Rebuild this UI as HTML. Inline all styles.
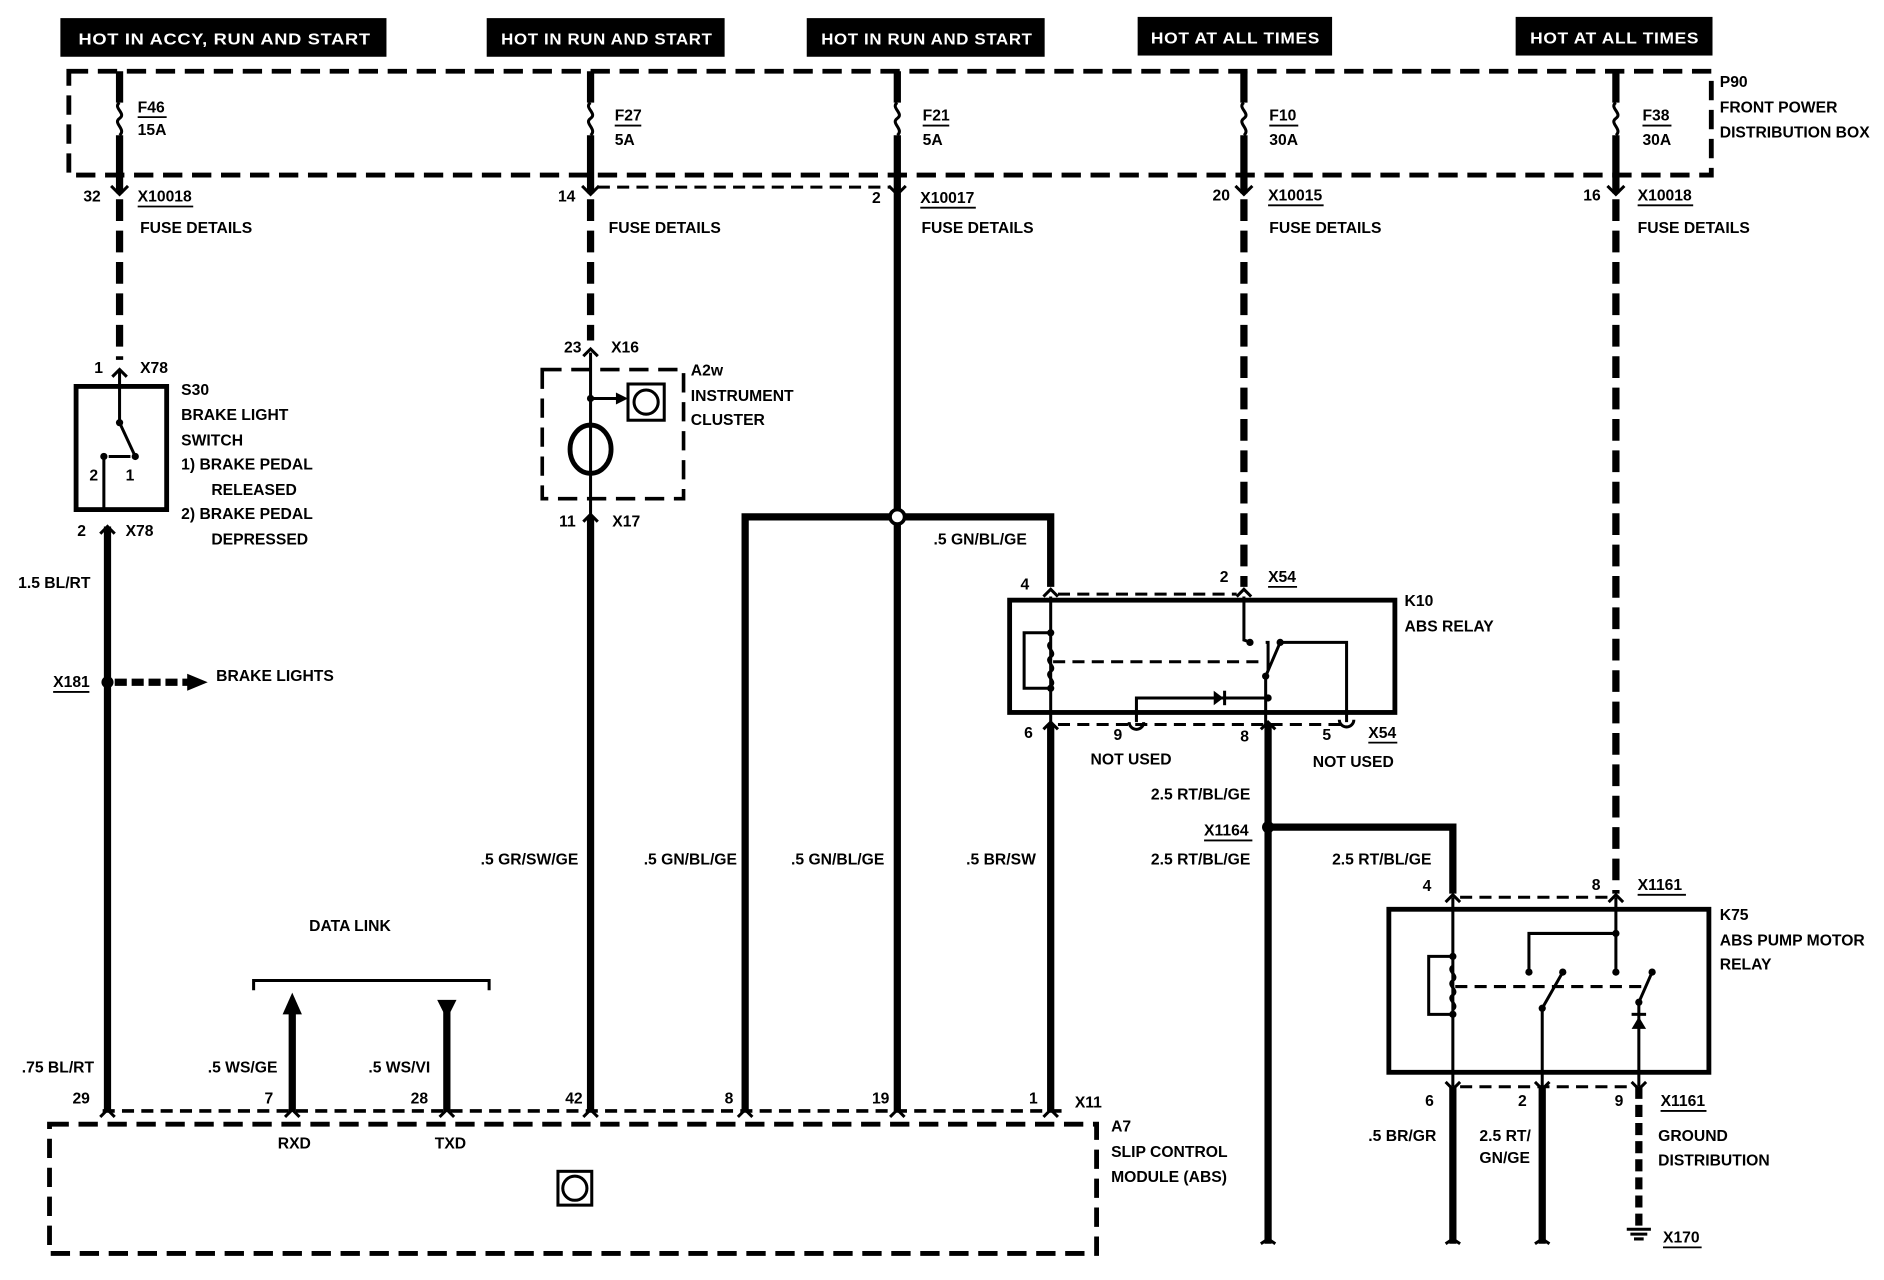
<!DOCTYPE html>
<html><head><meta charset="utf-8"><style>
html,body{margin:0;padding:0;background:#fff;width:1884px;height:1280px;overflow:hidden}
text{font-family:"Liberation Sans",sans-serif;font-weight:bold;font-size:13px;fill:#000}
.h{fill:#fff;font-size:13px;letter-spacing:0.5px}
.w{stroke:#000;stroke-width:6;fill:none}
.d{stroke:#000;stroke-width:6;fill:none;stroke-dasharray:18 8}
.t{stroke:#000;stroke-width:2.5;fill:none}
.td{stroke:#000;stroke-width:2.5;fill:none;stroke-dasharray:10 6}
.bd{stroke:#000;stroke-width:4;fill:none;stroke-dasharray:16 8}
.bx{stroke:#000;stroke-width:4;fill:none}
</style></head><body>
<svg width="1884" height="1280" viewBox="0 0 1560 1060" preserveAspectRatio="none" xmlns="http://www.w3.org/2000/svg">
<!-- headers -->
<rect x="50" y="15" width="270" height="32" fill="#000"/><text class="h" x="65" y="37" textLength="242" lengthAdjust="spacingAndGlyphs">HOT IN ACCY, RUN AND  START</text>
<rect x="403" y="15" width="197" height="32" fill="#000"/><text class="h" x="415" y="37" textLength="175" lengthAdjust="spacingAndGlyphs">HOT IN RUN AND START</text>
<rect x="668" y="15" width="197" height="32" fill="#000"/><text class="h" x="680" y="37" textLength="175" lengthAdjust="spacingAndGlyphs">HOT IN RUN AND START</text>
<rect x="942" y="14" width="161" height="32" fill="#000"/><text class="h" x="953" y="36" textLength="140" lengthAdjust="spacingAndGlyphs">HOT AT ALL TIMES</text>
<rect x="1255" y="14" width="163" height="32" fill="#000"/><text class="h" x="1267" y="36" textLength="140" lengthAdjust="spacingAndGlyphs">HOT AT ALL TIMES</text>
<!-- power box -->
<rect x="57" y="59" width="1360" height="86" class="bd"/>
<text x="1424" y="72">P90</text><text x="1424" y="93">FRONT POWER</text><text x="1424" y="114">DISTRIBUTION BOX</text>
<!-- fuses -->
<g class="w">
<path d="M99 59V85M99 112V160"/><path d="M489 59V85M489 112V160"/><path d="M743 59V85M743 112V160"/><path d="M1030 59V85M1030 112V160"/><path d="M1338 59V85M1338 112V160"/>
</g>
<g class="t">
<path d="M99 85c-6 4 6 9 0 13s6 9 0 14"/><path d="M489 85c-6 4 6 9 0 13s6 9 0 14"/><path d="M743 85c-6 4 6 9 0 13s6 9 0 14"/><path d="M1030 85c-6 4 6 9 0 13s6 9 0 14"/><path d="M1338 85c-6 4 6 9 0 13s6 9 0 14"/>
</g>
<text x="114" y="93">F46</text><line x1="114" y1="97" x2="138" y2="97" stroke="#000" stroke-width="1.5"/><text x="114" y="112">15A</text>
<text x="509" y="100">F27</text><line x1="509" y1="104" x2="531" y2="104" stroke="#000" stroke-width="1.5"/><text x="509" y="120">5A</text>
<text x="764" y="100">F21</text><line x1="764" y1="104" x2="786" y2="104" stroke="#000" stroke-width="1.5"/><text x="764" y="120">5A</text>
<text x="1051" y="100">F10</text><line x1="1051" y1="104" x2="1075" y2="104" stroke="#000" stroke-width="1.5"/><text x="1051" y="120">30A</text>
<text x="1360" y="100">F38</text><line x1="1360" y1="104" x2="1384" y2="104" stroke="#000" stroke-width="1.5"/><text x="1360" y="120">30A</text>
<!-- connectors below box -->
<g class="t"><path d="M92 154l7 7 7-7M482 154l7 7 7-7M736 154l7 7 7-7M1023 154l7 7 7-7M1331 154l7 7 7-7"/></g>
<path class="td" d="M495 155H737"/>
<text x="69" y="167">32</text><text x="114" y="167">X10018</text><line x1="114" y1="171" x2="160" y2="171" stroke="#000" stroke-width="1.5"/>
<text x="462" y="167">14</text>
<text x="722" y="168">2</text><text x="762" y="168">X10017</text><line x1="762" y1="172" x2="808" y2="172" stroke="#000" stroke-width="1.5"/>
<text x="1004" y="166">20</text><text x="1050" y="166">X10015</text><line x1="1050" y1="170" x2="1096" y2="170" stroke="#000" stroke-width="1.5"/>
<text x="1311" y="166">16</text><text x="1356" y="166">X10018</text><line x1="1356" y1="170" x2="1402" y2="170" stroke="#000" stroke-width="1.5"/>
<text x="116" y="193">FUSE DETAILS</text><text x="504" y="193">FUSE DETAILS</text><text x="763" y="193">FUSE DETAILS</text><text x="1051" y="193">FUSE DETAILS</text><text x="1356" y="193">FUSE DETAILS</text>
<!-- column 1 -->
<path class="d" d="M99 165V298"/>
<path class="t" d="M93 312l6-6 6 6"/>
<text x="78" y="309">1</text><text x="116" y="309">X78</text>
<rect x="63" y="320" width="75" height="102" class="bx"/>
<path class="t" d="M99 307V350L112 378M86 378V422M90 378H108" />
<circle cx="99" cy="350" r="3"/><circle cx="112" cy="378" r="3"/><circle cx="86" cy="378" r="3"/>
<text x="74" y="398">2</text><text x="104" y="398">1</text>
<text x="150" y="327">S30</text><text x="150" y="348">BRAKE LIGHT</text><text x="150" y="369">SWITCH</text>
<text x="150" y="389">1)   BRAKE PEDAL</text><text x="175" y="410">RELEASED</text><text x="150" y="430">2)   BRAKE PEDAL</text><text x="175" y="451">DEPRESSED</text>
<path class="t" d="M83 442l6-6 6 6"/><text x="64" y="444">2</text><text x="104" y="444">X78</text>
<path class="w" d="M89 436V920"/>
<text x="15" y="487">1.5 BL/RT</text>
<circle cx="89" cy="565" r="5"/><text x="44" y="569">X181</text><line x1="44" y1="573" x2="74" y2="573" stroke="#000" stroke-width="1.5"/>
<path class="d" d="M95 565H157" style="stroke-dasharray:10 4"/><path d="M155 558L172 565L155 572Z"/>
<text x="179" y="564">BRAKE LIGHTS</text>
<text x="18" y="888">.75 BL/RT</text><text x="60" y="914">29</text>
<!-- column 2 -->
<path class="d" d="M489 165V282"/>
<path class="t" d="M483 295l6-6 6 6"/><text x="467" y="292">23</text><text x="506" y="292">X16</text>
<rect x="449" y="306" width="117" height="107" class="bd" style="stroke-width:3"/>
<path class="t" d="M489 292V432M489 330H512"/><path d="M510 325L520 330L510 335Z"/>
<rect x="520" y="318" width="30" height="30" class="t"/><circle cx="535" cy="333" r="10" class="t"/>
<ellipse cx="489" cy="372" rx="17" ry="20" class="t" style="stroke-width:4"/>
<circle cx="489" cy="330" r="3"/>
<text x="572" y="311">A2w</text><text x="572" y="332">INSTRUMENT</text><text x="572" y="352">CLUSTER</text>
<path class="t" d="M483 432l6-6 6 6"/><text x="463" y="436">11</text><text x="507" y="436">X17</text>
<path class="w" d="M489 428V920"/>
<text x="398" y="716">.5 GR/SW/GE</text><text x="468" y="914">42</text>
<!-- column 3 -->
<path class="w" d="M743 160V920M617 920V428H870V486"/>
<circle cx="743" cy="428" r="6" fill="#fff" stroke="#000" stroke-width="3"/>
<text x="773" y="451">.5 GN/BL/GE</text>
<text x="533" y="716">.5 GN/BL/GE</text><text x="655" y="716">.5 GN/BL/GE</text><text x="800" y="716">.5 BR/SW</text>
<text x="600" y="914">8</text><text x="722" y="914">19</text><text x="852" y="914">1</text><text x="890" y="917">X11</text>
<!-- column 4 -->
<path class="d" d="M1030 165V486"/>
<!-- K10 -->
<path class="td" d="M876 492H1024"/>
<path class="t" d="M864 494l6-6 6 6M1024 494l6-6 6 6"/>
<text x="845" y="488">4</text><text x="1010" y="482">2</text><text x="1050" y="482">X54</text><line x1="1050" y1="486" x2="1074" y2="486" stroke="#000" stroke-width="1.5"/>
<rect x="836" y="497" width="319" height="93" class="bx"/>
<path class="t" d="M870 494V600M870 524H848V570H870M1030 494V530L1036 532M1048 532L1050 532V555M1060 532L1048 560V600M1060 532H1115V598M1050 578H941V598"/>
<path class="t" d="M870 532c-6 4 6 8 0 12s6 8 0 12s6 8 0 12"/>
<path class="td" d="M872 548H1046"/>
<path d="M1005 572L1013 578L1005 584Z"/><line x1="1014" y1="572" x2="1014" y2="584" stroke="#000" stroke-width="2.5"/>
<circle cx="870" cy="524" r="3"/><circle cx="870" cy="570" r="3"/><circle cx="1035" cy="532" r="3"/><circle cx="1060" cy="532" r="3"/><circle cx="1050" cy="578" r="3"/><circle cx="1048" cy="560" r="3"/>
<path class="td" d="M876 600H1110"/>
<path class="t" d="M864 604l6-6 6 6M1044 604l6-6 6 6M935 598a6 6 0 0 0 12 0M1109 596a6 6 0 0 0 12 0"/>
<text x="848" y="611">6</text><text x="922" y="613">9</text><text x="1027" y="614">8</text><text x="1095" y="613">5</text>
<text x="1133" y="611">X54</text><line x1="1133" y1="615" x2="1157" y2="615" stroke="#000" stroke-width="1.5"/>
<text x="903" y="633">NOT USED</text><text x="1087" y="635">NOT USED</text>
<text x="1163" y="502">K10</text><text x="1163" y="523">ABS RELAY</text>
<path class="w" d="M870 600V920M1050 600V1030M1050 685H1203V740"/>
<circle cx="1050" cy="685" r="5"/>
<text x="953" y="662">2.5 RT/BL/GE</text><text x="997" y="692">X1164</text><line x1="997" y1="696" x2="1037" y2="696" stroke="#000" stroke-width="1.5"/>
<text x="953" y="716">2.5 RT/BL/GE</text><text x="1103" y="716">2.5 RT/BL/GE</text>
<!-- column 5 -->
<path class="d" d="M1338 165V740"/>
<!-- K75 -->
<path class="td" d="M1209 743H1332"/>
<path class="t" d="M1197 747l6-6 6 6M1332 747l6-6 6 6"/>
<text x="1178" y="738">4</text><text x="1318" y="737">8</text><text x="1356" y="737">X1161</text><line x1="1356" y1="741" x2="1396" y2="741" stroke="#000" stroke-width="1.5"/>
<rect x="1150" y="753" width="265" height="135" class="bx"/>
<path class="t" d="M1203 743V900M1203 792H1183V840H1203M1338 743V805M1338 773H1266V805M1294 805L1277 835V900M1368 805L1357 830V900"/>
<path class="t" d="M1203 800c-6 4 6 8 0 12s6 8 0 12s6 8 0 12"/>
<path class="td" d="M1205 817H1360"/>
<path d="M1351 852L1357 842L1363 852Z"/><line x1="1351" y1="840" x2="1363" y2="840" stroke="#000" stroke-width="2.5"/>
<circle cx="1203" cy="792" r="3"/><circle cx="1203" cy="840" r="3"/><circle cx="1338" cy="773" r="3"/><circle cx="1266" cy="805" r="3"/><circle cx="1294" cy="805" r="3"/><circle cx="1338" cy="805" r="3"/><circle cx="1368" cy="805" r="3"/><circle cx="1277" cy="835" r="3"/><circle cx="1357" cy="830" r="3"/>
<text x="1424" y="762">K75</text><text x="1424" y="783">ABS PUMP MOTOR</text><text x="1424" y="803">RELAY</text>
<path class="td" d="M1209 900H1351"/>
<path class="t" d="M1197 896l6 6 6-6M1271 896l6 6 6-6M1351 896l6 6 6-6"/>
<text x="1180" y="916">6</text><text x="1257" y="916">2</text><text x="1337" y="916">9</text>
<text x="1375" y="916">X1161</text><line x1="1375" y1="920" x2="1413" y2="920" stroke="#000" stroke-width="1.5"/>
<path class="w" d="M1203 900V1030M1277 900V1030"/><path class="d" d="M1357 900V1016" style="stroke-dasharray:10 5"/>
<path class="t" d="M1347 1018H1367M1350 1022H1364M1353 1026H1361"/>
<text x="1377" y="1029">X170</text><line x1="1377" y1="1033" x2="1409" y2="1033" stroke="#000" stroke-width="1.5"/>
<text x="1133" y="945">.5 BR/GR</text><text x="1225" y="945">2.5 RT/</text><text x="1225" y="963">GN/GE</text>
<text x="1373" y="945">GROUND</text><text x="1373" y="965">DISTRIBUTION</text>
<!-- data link -->
<text x="256" y="771">DATA LINK</text>
<path class="t" d="M210 820V812H405V820"/>
<path class="w" d="M242 920V838M370 838V920"/><path d="M234 840L242 822L250 840Z"/><path d="M362 828L378 828L370 844Z"/>
<text x="172" y="888">.5 WS/GE</text><text x="305" y="888">.5 WS/VI</text>
<text x="219" y="914">7</text><text x="340" y="914">28</text>
<!-- A7 -->
<path class="td" d="M85 920H880" style="stroke-width:3"/>
<g class="t"><path d="M83 925l6-6 6 6M236 925l6-6 6 6M364 925l6-6 6 6M483 925l6-6 6 6M611 925l6-6 6 6M737 925l6-6 6 6M864 925l6-6 6 6"/></g>
<rect x="41" y="931" width="867" height="107" class="bd"/>
<text x="230" y="951">RXD</text><text x="360" y="951">TXD</text>
<rect x="462" y="970" width="28" height="28" class="t"/><circle cx="476" cy="984" r="10" class="t"/>
<text x="920" y="937">A7</text><text x="920" y="958">SLIP CONTROL</text><text x="920" y="979">MODULE (ABS)</text>
<!-- ground ends -->
<g class="t"><path d="M1044 1030l6-4 6 4M1197 1030l6-4 6 4M1271 1030l6-4 6 4"/></g>
</svg>
</body></html>
